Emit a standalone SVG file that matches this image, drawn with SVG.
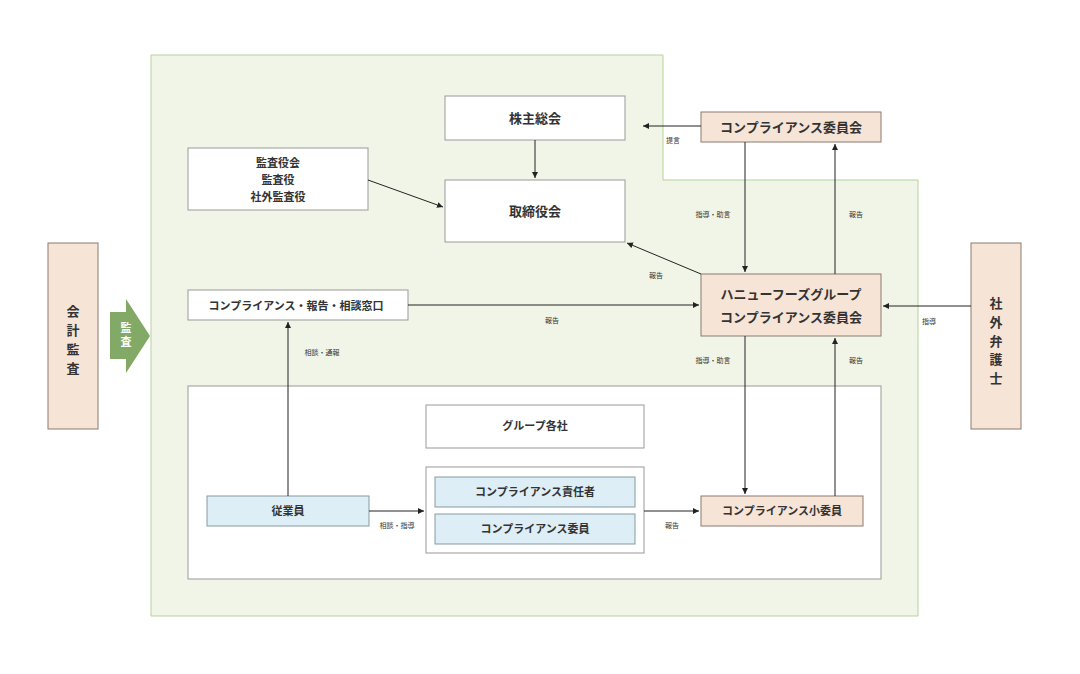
<svg xmlns="http://www.w3.org/2000/svg" width="1080" height="674" viewBox="0 0 1080 674">
<style>
text{font-family:"Noto Sans CJK JP",sans-serif;fill:#333;text-anchor:middle;font-weight:bold}
.b{font-size:13px}.s{font-size:7px;font-weight:normal}
.w{fill:#fff;stroke:#999;stroke-width:1}
.p{fill:#f6e4d6;stroke:#8c7a70;stroke-width:1}
.c{fill:#ddeef7;stroke:#8899a0;stroke-width:1}
.l{stroke:#222;stroke-width:1;fill:none;marker-end:url(#a)}
</style>
<defs><marker id="a" markerWidth="8" markerHeight="8" refX="6" refY="3" orient="auto" markerUnits="userSpaceOnUse"><path d="M0,0L6,3L0,6z" fill="#222"/></marker></defs>
<rect width="1080" height="674" fill="#fff"/>
<path d="M151,55H663V180H918V616H151Z" fill="#f1f5e7" stroke="#b5d39a" stroke-width="1"/>
<g id="groupbox"><rect x="188" y="386" width="693" height="193" fill="#fff" stroke="#999"/></g>
<g id="kaikei"><rect class="p" x="48" y="243" width="50" height="186"/><text class="b" x="73" y="316">会</text><text class="b" x="73" y="335">計</text><text class="b" x="73" y="354">監</text><text class="b" x="73" y="373">査</text></g>
<g id="kansa-arrow"><path d="M110,312H126V299L150,336L126,373V359H110Z" fill="#82aa66"/><text x="126" y="332" style="font-size:11px;fill:#fff">監</text><text x="126" y="346" style="font-size:11px;fill:#fff">査</text></g>
<g id="kabunushi"><rect class="w" x="445" y="96" width="180" height="44"/><text class="b" x="535" y="123">株主総会</text></g>
<g id="torishimari"><rect class="w" x="445" y="180" width="180" height="62"/><text class="b" x="535" y="216">取締役会</text></g>
<g id="kansayaku"><rect class="w" x="188" y="148" width="180" height="62"/><text x="278" y="167" style="font-size:11px">監査役会</text><text x="278" y="184" style="font-size:11px">監査役</text><text x="278" y="201" style="font-size:11px">社外監査役</text></g>
<g id="madoguchi"><rect class="w" x="188" y="290" width="220" height="30"/><text x="296" y="310" style="font-size:11px">コンプライアンス・報告・相談窓口</text></g>
<g id="cc-top"><rect class="p" x="701" y="112" width="180" height="30"/><text class="b" x="791" y="132">コンプライアンス委員会</text></g>
<g id="hanyu"><rect class="p" x="701" y="274" width="180" height="62"/><text class="b" x="791" y="299">ハニューフーズグループ</text><text class="b" x="791" y="322">コンプライアンス委員会</text></g>
<g id="bengoshi"><rect class="p" x="971" y="243" width="50" height="186"/><text class="b" x="996" y="308">社</text><text class="b" x="996" y="327">外</text><text class="b" x="996" y="346">弁</text><text class="b" x="996" y="364">護</text><text class="b" x="996" y="383">士</text></g>
<g id="group"><rect class="w" x="426" y="405" width="218" height="43"/><text x="535" y="430" style="font-size:11px">グループ各社</text></g>
<g id="staff"><rect class="c" x="207" y="496" width="162" height="30"/><text x="288" y="515" style="font-size:11px">従業員</text></g>
<g id="inner"><rect class="w" x="426" y="467" width="218" height="86"/>
<rect class="c" x="435" y="477" width="200" height="30"/><text x="535" y="496" style="font-size:11px">コンプライアンス責任者</text>
<rect class="c" x="435" y="514" width="200" height="30"/><text x="535" y="533" style="font-size:11px">コンプライアンス委員</text></g>
<g id="sho"><rect class="p" x="701" y="496" width="162" height="30"/><text x="782" y="515" style="font-size:11px">コンプライアンス小委員</text></g>
<g id="connectors">
<path class="l" d="M535,140V178"/>
<path class="l" d="M368,180L443,207"/>
<path class="l" d="M701,126H643"/>
<path class="l" d="M745,142V272"/>
<path class="l" d="M835,274V144"/>
<path class="l" d="M701,274L627,243"/>
<path class="l" d="M408,305H699"/>
<path class="l" d="M971,306H883"/>
<path class="l" d="M288,496V322"/>
<path class="l" d="M369,511H424"/>
<path class="l" d="M644,511H699"/>
<path class="l" d="M745,336V494"/>
<path class="l" d="M835,496V338"/>
</g>
<g id="labels">
<text class="s" x="673" y="143">提言</text>
<text class="s" x="713" y="217">指導・助言</text>
<text class="s" x="856" y="217">報告</text>
<text class="s" x="656" y="278">報告</text>
<text class="s" x="552" y="323">報告</text>
<text class="s" x="929" y="324">指導</text>
<text class="s" x="322" y="355">相談・通報</text>
<text class="s" x="713" y="363">指導・助言</text>
<text class="s" x="856" y="363">報告</text>
<text class="s" x="397" y="528">相談・指導</text>
<text class="s" x="672" y="528">報告</text>
</g>
</svg>
